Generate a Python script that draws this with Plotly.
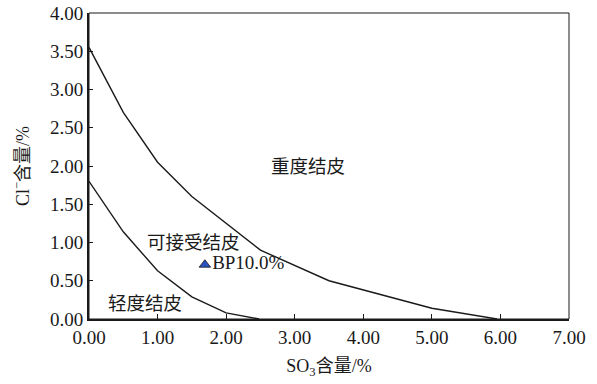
import plotly.graph_objects as go

# Upper boundary (heavy / acceptable crusting)
upper_x = [0.0, 0.5, 1.0, 1.5, 2.5, 3.5, 5.0, 5.95]
upper_y = [3.55, 2.70, 2.05, 1.60, 0.90, 0.50, 0.14, 0.0]
# Lower boundary (acceptable / light crusting)
lower_x = [0.0, 0.5, 1.0, 1.5, 2.0, 2.48]
lower_y = [1.80, 1.14, 0.63, 0.29, 0.08, 0.0]
# Sample point
pt_x = [1.69]
pt_y = [0.71]
pt_label = ["BP10.0%"]

region_labels = ["重度结皮", "可接受结皮", "轻度结皮"]
region_x = [3.19, 1.52, 0.82]
region_y = [1.99, 0.99, 0.19]

x_ticks = [0, 1, 2, 3, 4, 5, 6, 7]
y_ticks = [0, 0.5, 1.0, 1.5, 2.0, 2.5, 3.0, 3.5, 4.0]

FONT = "Liberation Serif, Times New Roman, Noto Sans CJK SC, serif"
INK = "#1a1a1a"

fig = go.Figure()
fig.add_trace(go.Scatter(x=upper_x, y=upper_y, mode="lines",
                         line=dict(color=INK, width=1.4), showlegend=False,
                         hoverinfo="skip"))
fig.add_trace(go.Scatter(x=lower_x, y=lower_y, mode="lines",
                         line=dict(color=INK, width=1.4), showlegend=False,
                         hoverinfo="skip"))
fig.add_trace(go.Scatter(x=pt_x, y=pt_y, mode="markers+text", text=pt_label,
                         textposition="middle right",
                         textfont=dict(family=FONT, size=19, color=INK),
                         marker=dict(symbol="triangle-up", size=10, color="#2a52be",
                                     line=dict(color=INK, width=0.8)),
                         showlegend=False))

for t, x, y in zip(region_labels, region_x, region_y):
    fig.add_annotation(x=x, y=y, text=t, showarrow=False,
                       font=dict(family=FONT, size=18.5, color=INK))

# thin frame on top/right
fig.add_shape(type="rect", xref="paper", yref="paper", x0=0, y0=0, x1=1, y1=1,
              line=dict(color=INK, width=1), layer="above")

fig.update_layout(
    width=597, height=384,
    margin=dict(l=89, r=28, t=13, b=65),
    plot_bgcolor="white", paper_bgcolor="white",
    font=dict(family=FONT, size=18, color=INK),
    xaxis=dict(range=[0, 7], tickvals=x_ticks,
               ticktext=[f"{v:.2f}" for v in x_ticks],
               ticks="inside", ticklen=5, tickcolor=INK,
               tickfont=dict(family=FONT, size=19),
               showline=True, linewidth=2, linecolor=INK,
               showgrid=False, zeroline=False, automargin=False,
               ticklabeloverflow="allow",
               title=dict(text="SO<sub>3</sub>含量/%", standoff=13,
                          font=dict(family=FONT, size=18))),
    yaxis=dict(range=[0, 4], tickvals=y_ticks,
               ticktext=[f"{v:.2f}" for v in y_ticks],
               ticks="inside", ticklen=4, tickcolor=INK,
               tickfont=dict(family=FONT, size=19),
               showline=True, linewidth=2, linecolor=INK,
               showgrid=False, zeroline=False, automargin=False,
               ticklabeloverflow="allow",
               title=dict(text="Cl<sup>−</sup>含量/%", standoff=16,
                          font=dict(family=FONT, size=18))),
)

fig.write_html("out.html",
               config={"displayModeBar": False, "staticPlot": True},
               post_script="document.body.style.margin='0';"
                           "document.body.style.overflow='hidden';")
